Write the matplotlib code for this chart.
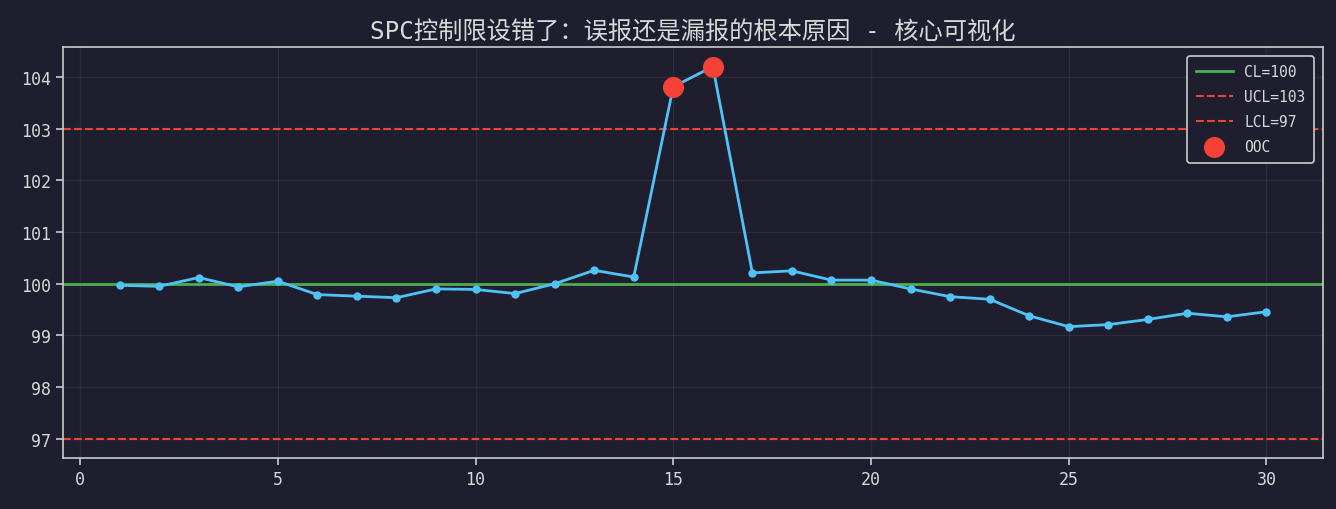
import matplotlib
matplotlib.use("Agg")
import matplotlib.pyplot as plt
import numpy as np

# ---- data ----
samples = list(range(1, 31))
values = [99.97, 99.95, 100.12, 99.94, 100.05, 99.79, 99.76, 99.73, 99.90, 99.89,
          99.81, 100.00, 100.26, 100.13, 103.81, 104.20, 100.21, 100.25, 100.07, 100.07,
          99.90, 99.75, 99.70, 99.38, 99.17, 99.21, 99.31, 99.43, 99.36, 99.46]
CL = 100
UCL = 103
LCL = 97
title = "SPC控制限设错了：误报还是漏报的根本原因 - 核心可视化"

plt.rcParams['font.family'] = ['DejaVu Sans Mono', 'Noto Sans CJK SC']

bg = '#1e1e2e'
fg = '#d8d8d8'
fig = plt.figure(figsize=(13.36, 5.10), dpi=100, facecolor=bg)
ax = fig.add_axes([0.0472, 0.1, 0.9431, 0.806], facecolor=bg)

ax.plot(samples, values, color='#4fc3f7', lw=2, marker='o', ms=5, zorder=3)
ax.axhline(CL, color='#4caf50', lw=2, label=f'CL={CL}', zorder=2)
ax.axhline(UCL, color='#f44336', lw=1.5, ls='--', label=f'UCL={UCL}', zorder=2)
ax.axhline(LCL, color='#f44336', lw=1.5, ls='--', label=f'LCL={LCL}', zorder=2)

ooc_x = [x for x, v in zip(samples, values) if v > UCL or v < LCL]
ooc_y = [v for v in values if v > UCL or v < LCL]
ax.scatter(ooc_x, ooc_y, s=200, color='#f44336', zorder=4, label='OOC')

ax.set_xlim(-0.43, 31.43)
ax.set_ylim(96.63, 104.58)
ax.set_xticks([0, 5, 10, 15, 20, 25, 30])
ax.set_yticks([97, 98, 99, 100, 101, 102, 103, 104])
ax.grid(True, color='#ffffff', alpha=0.06, lw=1)
for s in ax.spines.values():
    s.set_color('#cccccc')
    s.set_linewidth(1.2)
ax.tick_params(colors='#cccccc', labelcolor=fg, labelsize=12, length=5, width=1.2)

ax.set_title(title, color=fg, fontsize=17.5, pad=6)
leg = ax.legend(loc='upper right', fontsize=10.5, facecolor=bg, edgecolor='#cccccc',
                labelcolor=fg, framealpha=1, borderaxespad=0.6, borderpad=0.6,
                labelspacing=0.68, handlelength=2.5)
leg.get_frame().set_linewidth(1.2)

fig.savefig('out.png', dpi=100, facecolor=bg)
